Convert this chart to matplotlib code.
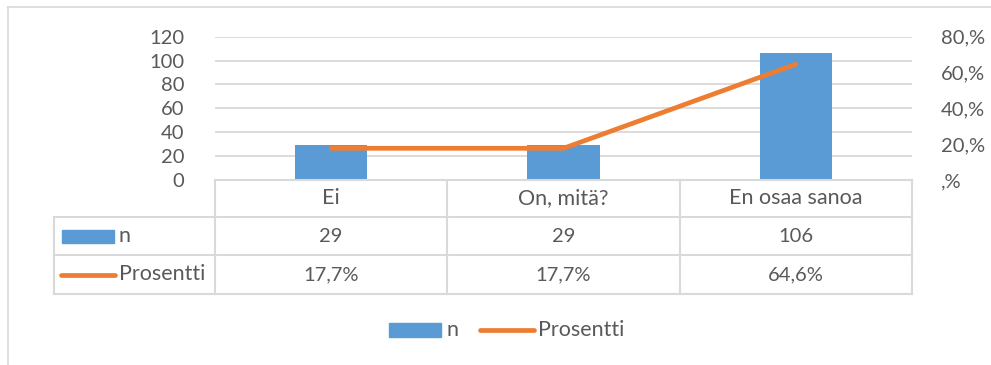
import matplotlib.pyplot as plt
from matplotlib.lines import Line2D
from matplotlib.patches import Rectangle

categories = ["Ei", "On, mitä?", "En osaa sanoa"]
counts = [29, 29, 106]
percents = [17.7, 17.7, 64.6]
count_labels = ["29", "29", "106"]
percent_labels = ["17,7%", "17,7%", "64,6%"]
left_ticks = [0, 20, 40, 60, 80, 100, 120]
right_ticks = [0, 20, 40, 60, 80]
right_tick_labels = [",%", "20,%", "40,%", "60,%", "80,%"]
series_names = ["n", "Prosentti"]

BLUE = "#5B9BD5"
ORANGE = "#ED7D31"
GRID = "#D9D9D9"
TEXT = "#595959"
FONT = "Lato"
FS = 14.5
FS_TEXT = 15.5

W, H = 991, 365
fig = plt.figure(figsize=(W / 100, H / 100), dpi=100)
plt.rcParams["font.family"] = [FONT, "DejaVu Sans"]

# plot area in pixel coordinates
x0, x1 = 215, 912
y_top, y_zero = 36.7, 180
ax = fig.add_axes([x0 / W, 1 - y_zero / H, (x1 - x0) / W, (y_zero - y_top) / H])
ax.set_xlim(-0.5, len(categories) - 0.5)
ax.set_ylim(0, 120)
ax.set_yticks(left_ticks)
ax.set_yticklabels([str(t) for t in left_ticks], fontsize=FS, color=TEXT)
ax.tick_params(axis="y", length=0, pad=22)
ax.set_xticks([])
for s in ax.spines.values():
    s.set_visible(False)
for t in left_ticks[1:]:
    ax.axhline(t, color=GRID, lw=1.3, zorder=0)
ax.bar(range(len(categories)), counts, width=0.31, color=BLUE, zorder=2)
ax.patch.set_alpha(0)

ax2 = ax.twinx()
ax2.set_ylim(0, 80)
ax2.set_yticks(right_ticks)
ax2.set_yticklabels(right_tick_labels, fontsize=FS, color=TEXT)
ax2.tick_params(axis="y", length=0, pad=21)
for s in ax2.spines.values():
    s.set_visible(False)
ax2.plot(range(len(categories)), percents, color=ORANGE, lw=3.4,
         solid_capstyle="round", zorder=3)

# overlay in pixel coordinates for the data table, legend and frame
ov = fig.add_axes([0, 0, 1, 1])
ov.set_xlim(0, W)
ov.set_ylim(H, 0)
ov.axis("off")
ov.patch.set_alpha(0)

def hline(x_a, x_b, y, color=GRID, lw=1.5):
    ov.add_line(Line2D([x_a, x_b], [y, y], color=color, lw=lw))

def vline(x, y_a, y_b, color=GRID, lw=1.5):
    ov.add_line(Line2D([x, x], [y_a, y_b], color=color, lw=lw))

# chart frame
hline(8, W, 7, lw=1.2)
vline(8, 7, H, lw=1.2)

col_edges = [x0 + i * (x1 - x0) / 3 for i in range(4)]
row_edges = [180, 217, 255, 294]
label_left = 54

hline(x0, x1, row_edges[0])
for y in row_edges[1:]:
    hline(label_left, x1, y)
for x in col_edges:
    vline(x, row_edges[0], row_edges[3])
vline(label_left, row_edges[1], row_edges[3])

for i, cat in enumerate(categories):
    cx = (col_edges[i] + col_edges[i + 1]) / 2
    ov.text(cx, (row_edges[0] + row_edges[1]) / 2, cat, ha="center", va="center",
            fontsize=FS_TEXT, color=TEXT)
    ov.text(cx, (row_edges[1] + row_edges[2]) / 2, count_labels[i], ha="center",
            va="center", fontsize=FS, color=TEXT)
    ov.text(cx, (row_edges[2] + row_edges[3]) / 2, percent_labels[i], ha="center",
            va="center", fontsize=FS, color=TEXT)

# row keys
ry1 = (row_edges[1] + row_edges[2]) / 2
ry2 = (row_edges[2] + row_edges[3]) / 2
ov.add_patch(Rectangle((62, ry1 - 6.5), 52, 13, color=BLUE))
ov.text(119, ry1, series_names[0], ha="left", va="center", fontsize=FS_TEXT, color=TEXT)
ov.add_line(Line2D([61, 115], [ry2, ry2], color=ORANGE, lw=3.4, solid_capstyle="round"))
ov.text(119, ry2, series_names[1], ha="left", va="center", fontsize=FS_TEXT, color=TEXT)

# legend
ly = 330
ov.add_patch(Rectangle((389, ly - 7), 52, 14, color=BLUE))
ov.text(446, ly, series_names[0], ha="left", va="center", fontsize=FS_TEXT, color=TEXT)
ov.add_line(Line2D([480, 534], [ly, ly], color=ORANGE, lw=3.4, solid_capstyle="round"))
ov.text(538, ly, series_names[1], ha="left", va="center", fontsize=FS_TEXT, color=TEXT)

fig.savefig("out.png", dpi=100)
